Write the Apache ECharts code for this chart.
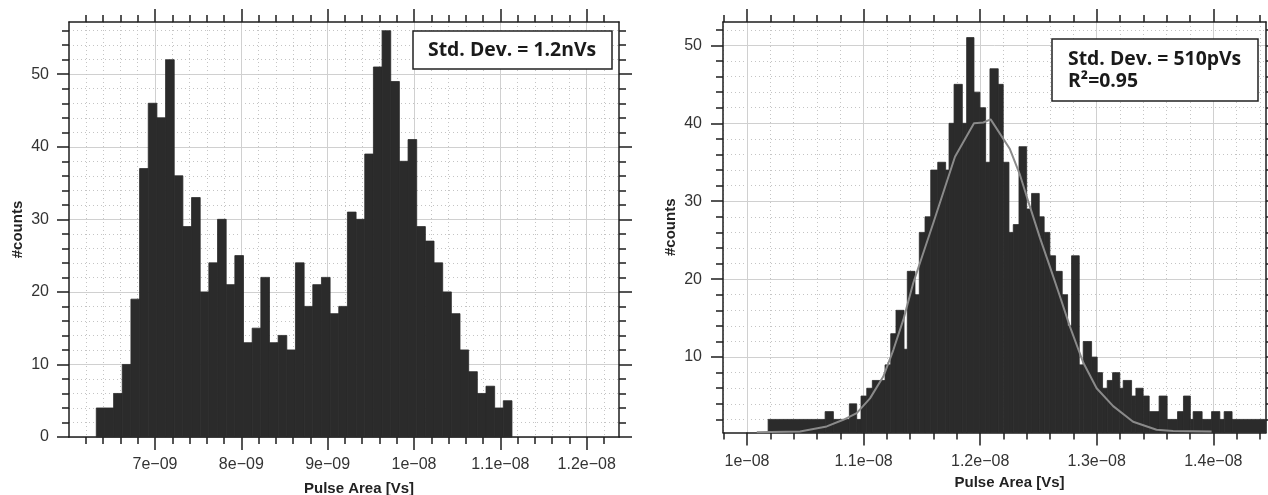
<!DOCTYPE html>
<html>
<head>
<meta charset="utf-8">
<script src="https://cdn.jsdelivr.net/npm/echarts@6/dist/echarts.min.js"></script>
<style>
  html, body { margin: 0; padding: 0; background: #fff; }
  #chart { width: 1268px; height: 495px; }
</style>
</head>
<body>
<div id="chart"></div>
<script>
// x values are in units of 1e-9 Vs

// left histogram: equal bins
var leftBinStart = 6.32;
var leftBinWidth = 0.1003;
var leftCounts = [4, 4, 6, 10, 19, 37, 46, 44, 52, 36, 29, 33, 20, 24, 30, 21, 25, 13, 15, 22,
                  13, 14, 12, 24, 18, 21, 22, 17, 18, 31, 30, 39, 51, 56, 49, 38, 41, 29, 27, 24,
                  20, 17, 12, 9, 6, 7, 4, 5];

// right histogram: bin edges and counts
var rightEdges = [10.181, 10.670, 10.741, 10.878, 10.941, 10.978, 11.027, 11.075, 11.184, 11.233,
                  11.278, 11.347, 11.375, 11.441, 11.478, 11.527, 11.576, 11.636, 11.704, 11.733,
                  11.776, 11.847, 11.884, 11.947, 11.998, 12.047, 12.084, 12.155, 12.198, 12.247,
                  12.284, 12.333, 12.399, 12.441, 12.507, 12.549, 12.598, 12.647, 12.704, 12.750,
                  12.784, 12.850, 12.884, 12.956, 13.004, 13.050, 13.090, 13.136, 13.198, 13.227,
                  13.299, 13.336, 13.398, 13.450, 13.535, 13.604, 13.693, 13.744, 13.803, 13.827,
                  13.904, 13.985, 14.056, 14.093, 14.161, 14.45];
var rightCounts = [2, 3, 2, 4, 2, 5, 6, 7, 9, 13, 16, 11, 21, 18, 26, 28, 34, 35, 34, 40,
                   45, 40, 51, 44, 42, 35, 47, 45, 35, 26, 27, 37, 29, 31, 28, 26, 23, 21, 18, 14,
                   23, 9, 12, 10, 8, 6, 7, 8, 6, 7, 5, 6, 5, 3, 5, 2, 3, 5, 2, 3,
                   2, 3, 2, 3, 2];

// gaussian fit curve
var fitX = [10.084, 10.455, 10.684, 10.826, 10.941, 11.055, 11.169, 11.255, 11.341, 11.426,
            11.598, 11.784, 11.947, 12.027, 12.090, 12.255, 12.341, 12.427, 12.513, 12.598,
            12.684, 12.770, 12.884, 12.999, 13.141, 13.312, 13.513, 13.655, 13.985];
var fitY = [0.35, 0.45, 1.1, 1.95, 2.8, 4.7, 7.5, 10.9, 14.8, 19.5,
            27.2, 35.7, 40.0, 40.1, 40.5, 36.7, 33.4, 29.3, 25.3, 21.6,
            17.8, 13.9, 9.3, 6.0, 3.7, 1.7, 0.67, 0.5, 0.45];

// axis ranges and tick labels
var leftXRange = [6.004, 12.374];
var leftYRange = [0, 57.2];
var rightXRange = [9.794, 14.452];
var rightYRange = [0.32, 53.0];
var leftXTicks = [7, 8, 9, 10, 11, 12];
var leftYTicks = [0, 10, 20, 30, 40, 50];
var rightXTicks = [10, 11, 12, 13, 14];
var rightYTicks = [10, 20, 30, 40, 50];

var axisColor = '#1e1e1e';
var barColor = '#2b2b2b';
var labelFont = 'Liberation Sans';
var noteFont = 'bold 19.4px "Open Sans"';

function fmtX(v) {
    if (v < 10) return v + 'e\u221209';
    return (v / 10) + 'e\u221208';
}

var leftData = leftCounts.map(function (c, i) {
    return [leftBinStart + i * leftBinWidth, leftBinStart + (i + 1) * leftBinWidth, c];
});
var rightData = rightCounts.map(function (c, i) {
    return [rightEdges[i], rightEdges[i + 1], c];
});
var fitData = fitX.map(function (x, i) { return [x, fitY[i]]; });

function histItem(base) {
    return function (params, api) {
        var a = api.coord([api.value(0), api.value(2)]);
        var b = api.coord([api.value(1), base]);
        return {
            type: 'rect',
            shape: { x: a[0], y: a[1], width: b[0] - a[0], height: b[1] - a[1] },
            style: { fill: barColor, stroke: barColor, lineWidth: 0.8 }
        };
    };
}

var tickLine = { color: axisColor, width: 1.5 };
var majorGrid = { color: '#d0d0d0', width: 1 };
var minorGrid = { color: '#c4c4c4', width: 1, type: [1, 3] };

function xAxes(grid, range, ticks, nameGap, margin) {
    return [{
        type: 'value', gridIndex: grid, position: 'bottom', min: range[0], max: range[1],
        name: 'Pulse Area [Vs]', nameLocation: 'middle', nameGap: nameGap,
        nameTextStyle: { fontFamily: labelFont, fontWeight: 'bold', fontSize: 15, color: '#222', padding: [0, 0, 0, 30] },
        axisLine: { show: true, onZero: false, lineStyle: tickLine },
        axisTick: { show: true, length: 13, customValues: ticks, lineStyle: tickLine },
        minorTick: { show: true, splitNumber: 5, length: 7, lineStyle: tickLine },
        axisLabel: { customValues: ticks, margin: margin, formatter: fmtX, fontFamily: labelFont, fontSize: 16, color: '#333' },
        splitLine: { show: true, lineStyle: majorGrid },
        minorSplitLine: { show: true, lineStyle: minorGrid }
    }, {
        type: 'value', gridIndex: grid, position: 'top', min: range[0], max: range[1],
        axisLine: { show: true, onZero: false, lineStyle: tickLine },
        axisTick: { show: true, length: 13, customValues: ticks, lineStyle: tickLine },
        minorTick: { show: true, splitNumber: 5, length: 7, lineStyle: tickLine },
        axisLabel: { show: false },
        splitLine: { show: false }
    }];
}

function yAxes(grid, range, ticks, nameGap, margin) {
    return [{
        type: 'value', gridIndex: grid, position: 'left', min: range[0], max: range[1],
        name: '#counts', nameLocation: 'middle', nameGap: nameGap,
        nameTextStyle: { fontFamily: labelFont, fontWeight: 'bold', fontSize: 15, color: '#222' },
        axisLine: { show: true, onZero: false, lineStyle: tickLine },
        axisTick: { show: true, length: 12, customValues: ticks, lineStyle: tickLine },
        minorTick: { show: true, splitNumber: 5, length: 7, lineStyle: tickLine },
        axisLabel: { customValues: ticks, margin: margin, fontFamily: labelFont, fontSize: 16, color: '#333' },
        splitLine: { show: true, lineStyle: majorGrid },
        minorSplitLine: { show: true, lineStyle: minorGrid }
    }, {
        type: 'value', gridIndex: grid, position: 'right', min: range[0], max: range[1],
        axisLine: { show: true, onZero: false, lineStyle: tickLine },
        axisTick: { show: true, length: 13, customValues: ticks, lineStyle: tickLine },
        minorTick: { show: true, splitNumber: 5, length: 7, lineStyle: tickLine },
        axisLabel: { show: false },
        splitLine: { show: false }
    }];
}

var myChart = echarts.init(document.getElementById('chart'));
myChart.setOption({
    animation: false,
    backgroundColor: '#fff',
    grid: [
        { left: 69, top: 22, width: 550, height: 415, outerBoundsMode: 'none', containLabel: false },
        { left: 723, top: 22, width: 543, height: 410.5, outerBoundsMode: 'none', containLabel: false }
    ],
    xAxis: xAxes(0, leftXRange, leftXTicks, 44, 20).concat(xAxes(1, rightXRange, rightXTicks, 43, 21)),
    yAxis: yAxes(0, leftYRange, leftYTicks, 44, 20).concat(yAxes(1, rightYRange, rightYTicks, 45, 21)),
    series: [{
        type: 'custom', xAxisIndex: 0, yAxisIndex: 0,
        renderItem: histItem(leftYRange[0]),
        encode: { x: [0, 1], y: 2 },
        data: leftData
    }, {
        type: 'custom', xAxisIndex: 2, yAxisIndex: 2,
        renderItem: histItem(rightYRange[0]),
        encode: { x: [0, 1], y: 2 },
        data: rightData
    }, {
        type: 'line', xAxisIndex: 2, yAxisIndex: 2, z: 5,
        symbol: 'none', smooth: false,
        lineStyle: { color: '#8a8a8a', width: 2 },
        data: fitData
    }],
    graphic: [
        { type: 'rect', shape: { x: 413, y: 31, width: 199, height: 38 },
          style: { fill: '#fff', stroke: '#222', lineWidth: 1.5 }, z: 10 },
        { type: 'text', x: 428, y: 50, z: 11,
          style: { text: 'Std. Dev. = 1.2nVs', font: noteFont, fill: '#1a1a1a', verticalAlign: 'middle' } },
        { type: 'rect', shape: { x: 1052, y: 39, width: 206, height: 62 },
          style: { fill: '#fff', stroke: '#222', lineWidth: 1.5 }, z: 10 },
        { type: 'text', x: 1068, y: 59, z: 11,
          style: { text: 'Std. Dev. = 510pVs', font: noteFont, fill: '#1a1a1a', verticalAlign: 'middle' } },
        { type: 'text', x: 1068, y: 81.5, z: 11,
          style: { text: 'R\u00b2=0.95', font: noteFont, fill: '#1a1a1a', verticalAlign: 'middle' } }
    ]
});
</script>
</body>
</html>
